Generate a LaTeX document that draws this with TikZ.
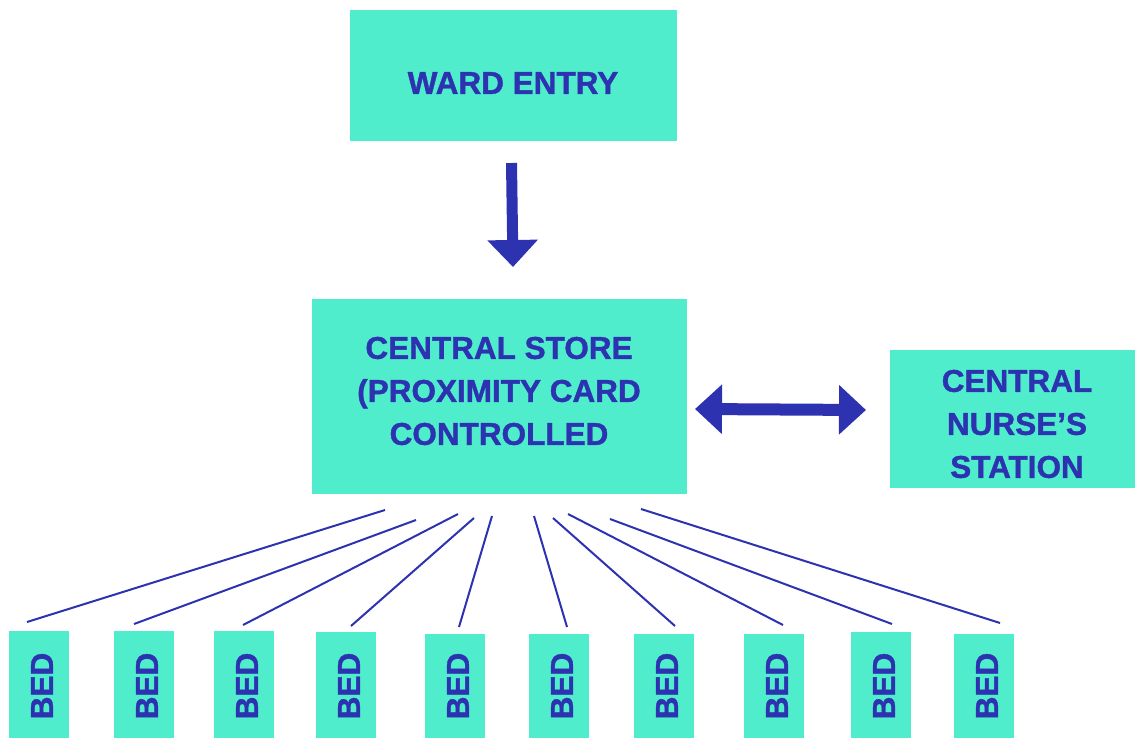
\documentclass[tikz,border=0pt]{standalone}
\usepackage{fontspec}
\setmainfont{Liberation Sans}
\newfontfamily\heavyfont{Liberation Sans Bold}[FakeBold=1.2]
\usetikzlibrary{arrows.meta}
\definecolor{mint}{HTML}{50EDCC}
\definecolor{navy}{HTML}{2C32B0}
\begin{document}
\begin{tikzpicture}[x=1pt,y=-1pt,
  box/.style={fill=mint, draw=none, inner sep=0pt, text=navy, align=center,
    font=\fontsize{31.5}{43}\heavyfont},
  txt/.style={inner sep=0pt, text=navy, align=center,
    font=\fontsize{31.5}{43}\heavyfont},
  bedbox/.style={fill=mint, draw=none, inner sep=0pt, minimum width=60pt},
  feed/.style={draw=navy, line width=2pt},
  bigarrow/.style={draw=navy, line width=11pt, -{Triangle[width=49pt,length=27pt]}},
  dblarrow/.style={draw=navy, line width=12pt, {Triangle[width=48pt,length=27pt]}-{Triangle[width=48pt,length=27pt]}}]
\useasboundingbox (0,0) rectangle (1135,738);

\node[box, minimum width=327pt, minimum height=131pt] (ward) at (513.5,75.5) {};
\node[txt] (wardt) at (513,83) {WARD ENTRY};
\node[box, minimum width=375pt, minimum height=195pt] (store) at (499.5,396.5) {};
\node[txt] (storet) at (499,391) {CENTRAL STORE\\(PROXIMITY CARD\\CONTROLLED};
\node[box, minimum width=253pt, minimum height=138pt] (nurse) at (1016.5,419) {};
\node[txt] (nurset) at (1017,424) {CENTRAL\\NURSE’S\\STATION};

% down arrow
\coordinate (a1) at (511.5,163);
\coordinate (a2) at (513,267);
\draw[bigarrow] (a1) -- (a2);

% double arrow
\coordinate (d1) at (695,409);
\coordinate (d2) at (866,410);
\draw[dblarrow] (d1) -- (d2);

% beds
\foreach \i/\x/\t in {1/39/631,2/144/631,3/244/631,4/346/632,5/455/634,
                      6/559/634,7/664/634,8/774/634,9/881/632,10/984/634}{
  \pgfmathsetmacro{\h}{738-\t}
  \pgfmathsetmacro{\cy}{(738+\t)/2}
  \node[bedbox, minimum height=\h pt] (bed\i) at (\x,\cy) {};
  \node[txt, rotate=90] (bedt\i) at (\x+3,686) {BED};
}

% feed lines
\foreach \i/\tx/\ty/\bx/\by in {1/385/510/27/622, 2/416/520/134/624, 3/458/514/243/625,
   4/474/518/351/626, 5/492/516/459/627, 6/534/516/567/627, 7/553/518/675/626,
   8/568/514/783/625, 9/610/519/892/624, 10/641/509/1000/623}{
  \coordinate (t\i) at (\tx,\ty);
  \coordinate (b\i) at (\bx,\by);
  \draw[feed] (t\i) -- (b\i);
}
\end{tikzpicture}
\end{document}
